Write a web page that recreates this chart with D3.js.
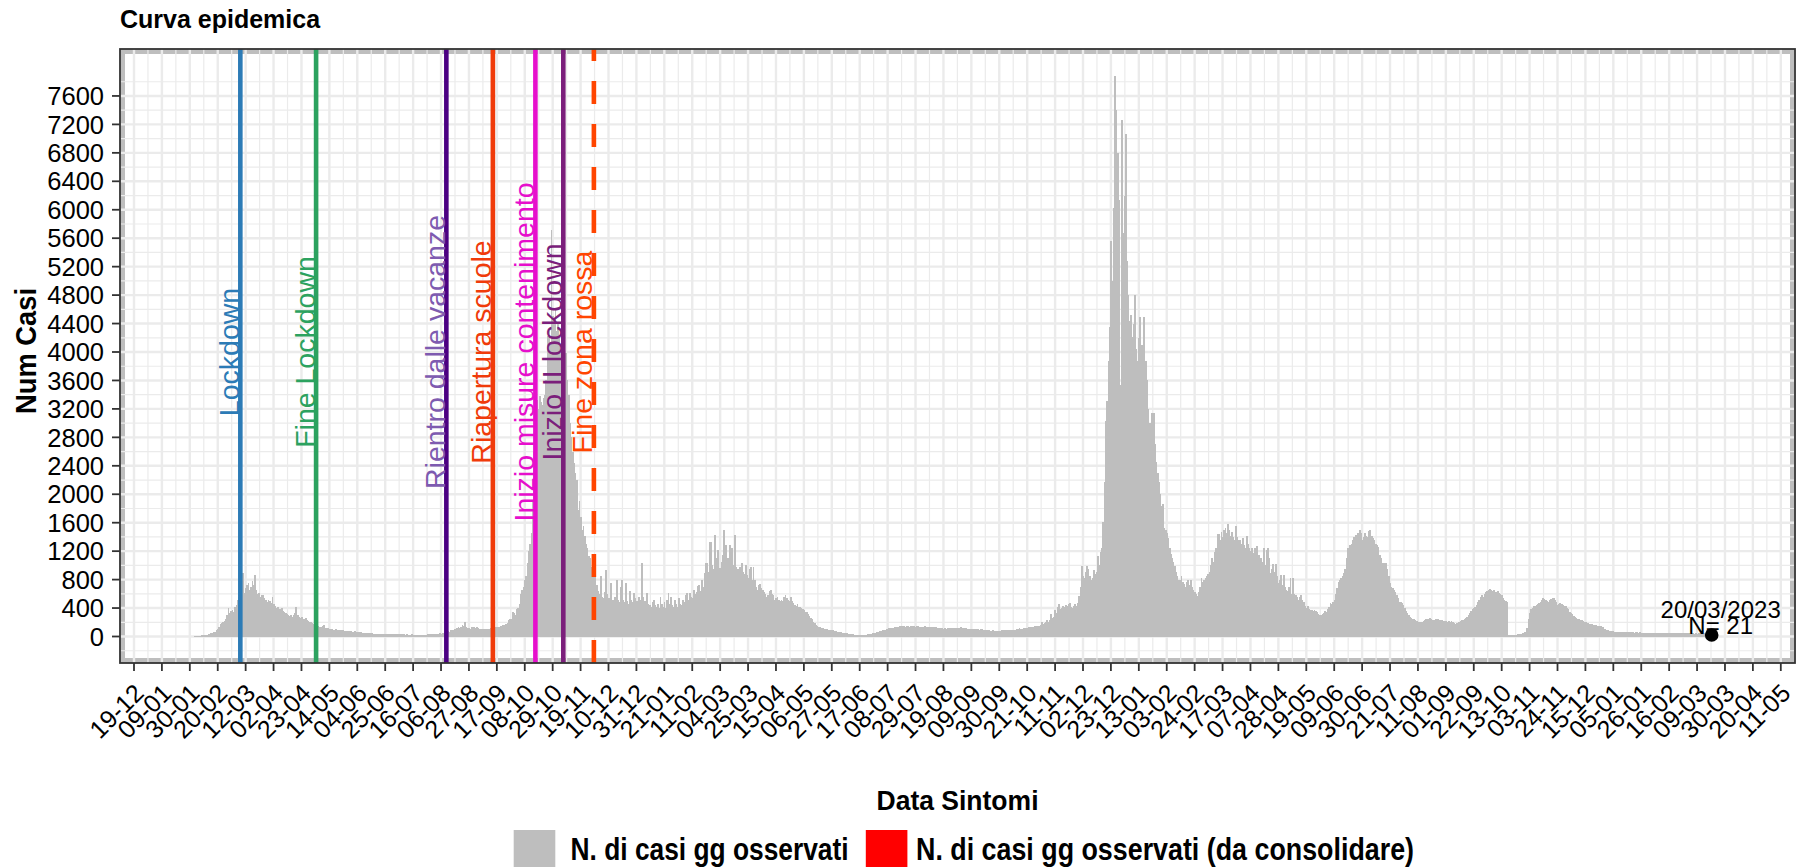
<!DOCTYPE html>
<html><head><meta charset="utf-8">
<script src="https://cdn.jsdelivr.net/npm/d3@7"></script>
<style>
body{margin:0;background:#fff;}
svg{display:block;}
text{font-family:"Liberation Sans",Arial,Helvetica,sans-serif;}
</style>
</head><body>
<svg id="chart" width="1803" height="867"></svg>
<script>
// ---------------- DATA ----------------
const firstCaseDate = "2020-02-03";
const dailyCases = [
5,8,10,12,14,16,18, 20,24,28,34,40,45,50, 58,70,85,110,140,170,190, 200,215,250,300,400,330,360,
375,350,420,445,520,560,600, 700,890,610,680,720,750,656, 700,780,720,867,650,600,610, 560,590,586,540,520,480,515,
500,470,562,450,430,400,420, 390,380,400,360,340,328,320, 300,290,305,280,300,330,420, 300,270,260,280,240,250,258,
230,220,200,210,187,170,160, 150,145,140,135,130,150,164, 120,110,115,103,100,105,98, 95,100,94,90,96,88,85,
80,82,78,75,80,72,70, 70,72,68,65,60,62,58, 55,52,50,48,47,50,45, 44,42,40,42,38,40,37,
37,36,35,38,34,33,35, 33,32,34,30,33,31,33, 30,32,29,31,28,30,28, 28,27,29,26,28,25,23,
25,27,24,28,26,25,27, 30,32,35,33,37,34,36, 38,40,45,42,50,55,70, 75,80,70,85,90,94,100,
110,120,130,125,140,160,150, 197,130,125,117,110,130,140, 140,120,130,117,110,105,112, 108,103,110,105,103,115,120,
125,130,140,135,128,140,150, 155,164,150,170,190,234,250, 250,350,330,300,380,400,450, 600,656,700,797,850,1031,1200,
1300,1453,1900,2600,3100,3328,3200, 3375,3300,3250,3351,3400,3600,4218, 4300,4100,5718,4500,4400,4600,4300, 4406,4200,4000,4100,3900,3700,3984,
3609,3400,3000,2800,2600,2437,2300, 2203,1781,1900,1687,1500,1550,1406, 1300,1250,1125,1100,984,950,900, 890,720,640,600,844,560,540,
620,937,600,540,500,750,520, 500,560,797,520,480,700,797, 520,480,750,500,460,640,520, 480,609,540,500,460,560,520,
1031,560,500,480,609,460,440, 420,480,515,440,420,460,400, 562,450,420,480,400,520,609, 460,562,440,420,520,460,420,
539,460,440,520,480,580,609, 520,609,560,540,650,600,620, 703,724,640,800,700,890,1029, 1029,900,1335,1333,1000,950,1427,
1100,1216,900,960,1050,1150,1497, 1286,1000,1100,1286,950,1240,1000, 1427,982,950,900,980,1029,900, 880,1005,860,820,950,982,800,
982,794,700,650,720,740,680, 654,620,600,560,580,640,654, 600,580,513,540,560,520,500, 513,500,560,584,540,520,500,
560,500,470,443,430,450,420, 419,400,380,370,349,340,320, 290,255,240,210,190,162,150, 140,130,120,115,110,105,100,
98,95,91,88,85,80,75, 70,65,60,58,54,50,48, 45,42,38,35,32,30,28, 27,25,24,22,22,21,22,
24,26,30,32,36,40,45, 50,55,60,65,72,80,88, 91,98,105,110,115,120,124, 124,130,135,140,138,145,142,
148,150,140,145,152,140,148, 148,150,145,140,148,142,138, 140,138,135,142,130,138,134, 136,130,134,128,132,125,120,
118,115,120,112,115,110,118, 115,120,118,122,116,120,125, 120,126,129,124,118,122,115, 112,110,108,112,106,110,104,
102,100,98,104,100,96,94, 90,88,85,84,82,86,80, 78,82,80,84,82,86,88, 85,88,90,86,91,88,85,
91,95,100,105,113,108,110, 115,120,118,125,130,128,135, 140,138,145,150,153,148,160, 209,180,190,200,226,210,230,
311,260,280,367,330,420,452, 380,400,424,410,440,430,460, 469,420,400,435,450,430,470, 565,700,989,850,819,900,989,
950,850,791,820,932,880,900, 1130,1000,1187,1250,1611,2176,3023, 3306,3871,4351,5566,5000,6018,7883, 7403,6800,6131,3532,7262,5679,6200,
7063,5284,4800,4436,4521,4210,4400, 4803,4041,3871,4200,4493,4100,3871, 4493,3871,3600,3193,3000,2797,3136, 3136,2700,2458,2300,2176,2000,1837,
1865,1526,1500,1450,1385,1250,1158, 1100,1050,989,900,850,791,800, 848,760,735,700,760,791,720, 791,700,650,622,600,565,620,
700,819,760,791,820,850,876, 900,1000,1102,1050,1187,1250,1441, 1441,1350,1469,1400,1500,1526,1450, 1582,1500,1420,1469,1400,1350,1554,
1400,1350,1356,1300,1385,1280,1250, 1413,1300,1243,1200,1250,1180,1243, 1200,1271,1148,984,1100,1045,1242, 1000,1215,1242,1102,890,950,1022,
900,1022,850,750,800,867,720, 867,700,656,640,700,820,600, 820,600,580,562,520,560,586, 520,480,422,400,430,390,375,
375,360,370,352,340,320,305, 305,310,330,352,340,380,420, 469,450,492,520,600,680,760, 797,820,850,890,950,1100,1242,
1200,1289,1300,1350,1400,1430,1380, 1460,1500,1450,1359,1400,1453,1420, 1400,1480,1500,1420,1380,1359,1300, 1280,1265,1150,1100,1031,1031,1000,
1031,950,850,750,700,680,656, 620,580,540,492,480,469,440, 400,352,330,300,280,258,250, 240,234,220,210,205,197,210,
220,234,240,245,250,258,240, 230,234,250,245,240,234,238, 234,220,215,211,205,211,200, 211,205,195,178,185,190,200,
211,225,235,244,260,280,300, 330,352,380,400,420,445,480, 520,562,580,562,600,620,640, 660,666,650,640,647,630,620,
640,609,600,580,540,516,500, 480,23,22,25,23,24,26, 28,30,33,35,38,45,60, 70,120,250,328,380,400,422,
422,440,450,469,480,520,539, 530,510,500,492,520,530,539, 539,510,480,445,460,469,450, 440,430,422,400,380,350,328,
310,290,270,258,250,240,235, 234,220,210,197,190,185,180, 178,170,165,160,155,150,145, 141,154,130,110,100,90,85,
80,78,75,72,70,68,66, 64,62,65,60,62,58,61, 60,58,61,57,59,56,58, 57,55,58,54,56,53,56,
55,53,56,52,54,51,53, 52,50,53,49,51,48,51, 50,48,51,47,49,46,49, 48,46,49,45,47,44,47,
46,44,47,43,45,42,45, 44,42,45,41,43,40,43, 42,40,43,39,41,38,40,
21
];
const lastDate = "2023-03-20";
const lastValue = 21;

const eventDates  = ["2020-03-08","2020-05-04","2020-08-10","2020-09-14","2020-10-16","2020-11-06","2020-11-29"];
const eventLabels = ["Lockdown","Fine Lockdown","Rientro dalle vacanze","Riapertura scuole","Inizio misure contenimento","Inizio II lockdown","Fine zona rossa"];
const eventLineColors = ["#2c7bb6","#2ca25f","#4b0082","#f03b0a","#e60fcc","#7b1f7b","#ff4500"];
const eventTextColors = ["#2c7bb6","#2ca25f","#7e5bb0","#f03b0a","#e60fcc","#7b1f7b","#ff4500"];
const eventDashed = [false,false,false,false,false,false,true];
const eventLabelY = 4000;

const yTickValues = [0,400,800,1200,1600,2000,2400,2800,3200,3600,4000,4400,4800,5200,5600,6000,6400,6800,7200,7600];
const xTickFirst = "2019-12-19";
const xTickLast = "2023-05-11";
const xTickStepDays = 21;

const legendLabels = ["N. di casi gg osservati","N. di casi gg osservati (da consolidare)"];
const legendColors = ["#bebebe","#ff0000"];

const titleText = "Curva epidemica";
const yTitle = "Num Casi";
const xTitle = "Data Sintomi";

// ---------------- LAYOUT ----------------
const P = {left:120, right:1795, top:49, bottom:663};
const parse = d3.utcParse("%Y-%m-%d");
const fmt = d3.utcFormat("%d-%m");
const svg = d3.select("#chart");

const x = d3.scaleUtc().domain([parse(xTickFirst), parse(xTickLast)]).range([134, 1780.8]);
const y = d3.scaleLinear().domain([0, 7600]).range([636.5, 95.95]);

const xTicks = d3.utcDay.range(parse(xTickFirst), d3.utcDay.offset(parse(xTickLast),1), 1)
  .filter((d,i)=> i % xTickStepDays === 0);

const defs = svg.append("defs");
defs.append("clipPath").attr("id","pclip").append("rect")
  .attr("x",P.left).attr("y",P.top).attr("width",P.right-P.left).attr("height",P.bottom-P.top);

// panel background: grey rim + white
svg.append("rect").attr("x",P.left).attr("y",P.top).attr("width",P.right-P.left).attr("height",P.bottom-P.top).attr("fill","#bebebe");
const inset = 5;
svg.append("rect").attr("x",P.left+inset).attr("y",P.top+inset).attr("width",P.right-P.left-2*inset).attr("height",P.bottom-P.top-2*inset).attr("fill","#ffffff");

const grid = svg.append("g").attr("clip-path","url(#pclip)");
const dayPx = x(d3.utcDay.offset(parse(xTickFirst),1)) - x(parse(xTickFirst));
const xMinor = [];
for (let i=-1;i<xTicks.length;i++){
  const base = i<0 ? d3.utcDay.offset(xTicks[0], -xTickStepDays) : xTicks[i];
  xMinor.push(new Date(base.getTime() + xTickStepDays/2*864e5));
}
grid.selectAll(".xmin").data(xMinor).join("line")
  .attr("x1",d=>x(d)).attr("x2",d=>x(d)).attr("y1",P.top).attr("y2",P.bottom)
  .attr("stroke","#ebebeb").attr("stroke-width",1.2);
const yMinor = d3.range(-200, 8001, 400);
grid.selectAll(".ymin").data(yMinor).join("line")
  .attr("x1",P.left).attr("x2",P.right).attr("y1",d=>y(d)).attr("y2",d=>y(d))
  .attr("stroke","#ebebeb").attr("stroke-width",1.2);
grid.selectAll(".xmaj").data(xTicks).join("line")
  .attr("x1",d=>x(d)).attr("x2",d=>x(d)).attr("y1",P.top).attr("y2",P.bottom)
  .attr("stroke","#ebebeb").attr("stroke-width",2.4);
grid.selectAll(".ymaj").data(yTickValues).join("line")
  .attr("x1",P.left).attr("x2",P.right).attr("y1",d=>y(d)).attr("y2",d=>y(d))
  .attr("stroke","#ebebeb").attr("stroke-width",2.4);

// bars
const start = parse(firstCaseDate);
const series = dailyCases.map((v,i)=>({date:d3.utcDay.offset(start,i), value:v}));
svg.append("g").attr("clip-path","url(#pclip)").attr("shape-rendering","crispEdges")
  .selectAll("rect").data(series).join("rect")
  .attr("x",d=>x(d.date)-dayPx/2).attr("width",dayPx+0.45)
  .attr("y",d=>y(d.value)).attr("height",d=>y(0)-y(d.value))
  .attr("fill","#bebebe");

// event lines
const ev = eventDates.map((d,i)=>({date:parse(d), label:eventLabels[i], lc:eventLineColors[i], tc:eventTextColors[i], dashed:eventDashed[i]}));
const evg = svg.append("g").attr("clip-path","url(#pclip)");
evg.selectAll("line").data(ev).join("line")
  .attr("x1",d=>x(d.date)).attr("x2",d=>x(d.date)).attr("y1",P.bottom).attr("y2",P.top)
  .attr("stroke",d=>d.lc).attr("stroke-width",4.6)
  .attr("stroke-dasharray",d=>d.dashed?"23,20":null);
svg.append("g").selectAll("text").data(ev).join("text")
  .attr("transform",d=>`translate(${x(d.date)-1.5},${y(eventLabelY)}) rotate(-90)`)
  .attr("text-anchor","middle").attr("font-size",28.5).attr("fill",d=>d.tc)
  .text(d=>d.label);

// last point
const lp = parse(lastDate);
svg.append("circle").attr("cx",x(lp)).attr("cy",y(lastValue)).attr("r",6.8).attr("fill","#000");
svg.append("text").attr("x",x(lp)+9).attr("y",618).attr("text-anchor","middle").attr("font-size",24).text(d3.utcFormat("%d/%m/%Y")(lp));
svg.append("text").attr("x",x(lp)+9).attr("y",633.5).attr("text-anchor","middle").attr("font-size",24).text("N= "+lastValue);

// panel border
svg.append("rect").attr("x",P.left).attr("y",P.top).attr("width",P.right-P.left).attr("height",P.bottom-P.top)
  .attr("fill","none").attr("stroke","#333333").attr("stroke-width",1.8);

// y axis
const ya = svg.append("g");
ya.selectAll("line").data(yTickValues).join("line")
  .attr("x1",112).attr("x2",P.left).attr("y1",d=>y(d)).attr("y2",d=>y(d))
  .attr("stroke","#333333").attr("stroke-width",1.8);
ya.selectAll("text").data(yTickValues).join("text")
  .attr("x",104).attr("y",d=>y(d)).attr("dy","0.36em").attr("text-anchor","end")
  .attr("font-size",25.5).attr("fill","#000").text(d=>d);

// x axis
const xa = svg.append("g");
xa.selectAll("line").data(xTicks).join("line")
  .attr("x1",d=>x(d)).attr("x2",d=>x(d)).attr("y1",P.bottom).attr("y2",P.bottom+8)
  .attr("stroke","#333333").attr("stroke-width",1.8);
xa.selectAll("text").data(xTicks).join("text")
  .attr("transform",d=>`translate(${x(d)-1.5},682) rotate(-45)`)
  .attr("dy","0.72em").attr("text-anchor","end")
  .attr("font-size",25).attr("fill","#000").text(d=>fmt(d));

// titles
svg.append("text").attr("x",120).attr("y",28).attr("font-size",25).attr("font-weight","bold").text(titleText);
svg.append("text").attr("transform",`translate(36,${(P.top+P.bottom)/2-5}) rotate(-90)`)
  .attr("text-anchor","middle").attr("font-size",29).attr("font-weight","bold")
  .attr("textLength",126).attr("lengthAdjust","spacingAndGlyphs").text(yTitle);
svg.append("text").attr("x",(P.left+P.right)/2).attr("y",810).attr("text-anchor","middle")
  .attr("font-size",28).attr("font-weight","bold")
  .attr("textLength",162).attr("lengthAdjust","spacingAndGlyphs").text(xTitle);

// legend
const legendKeyX = [513.7, 865.8];
const legendTextX = [570.6, 916];
const legendTextW = [278, 498];
const lg = svg.append("g");
legendLabels.forEach((l,i)=>{
  lg.append("rect").attr("x",legendKeyX[i]).attr("y",830).attr("width",41.6).attr("height",44).attr("fill",legendColors[i]);
  lg.append("text").attr("x",legendTextX[i]).attr("y",860).attr("font-size",31).attr("font-weight","bold")
    .attr("textLength",legendTextW[i]).attr("lengthAdjust","spacingAndGlyphs").text(l);
});
</script>
</body></html>
